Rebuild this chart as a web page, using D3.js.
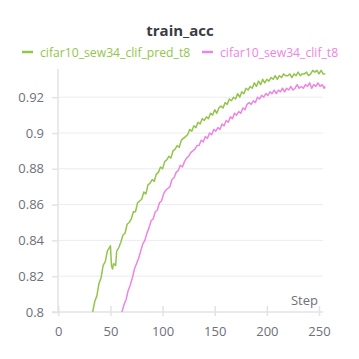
<!DOCTYPE html>
<html><head><meta charset="utf-8">
<script src="https://cdn.jsdelivr.net/npm/d3@7"></script>
<style>body{margin:0;background:#fff}svg{display:block;font-family:"Open Sans",sans-serif}</style>
</head><body><svg id="c" width="359" height="359"></svg>
<script>
const title = "train_acc";
const seriesNames = ["cifar10_sew34_clif_pred_t8", "cifar10_sew34_clif_t8"];
const seriesColors = ["#93c54b", "#ee84e4"];
const xTicks = [0, 50, 100, 150, 200, 250];
const yTicks = [0.8, 0.82, 0.84, 0.86, 0.88, 0.9, 0.92];
const yTickLabels = ["0.8", "0.82", "0.84", "0.86", "0.88", "0.9", "0.92"];

const greenSteps = [33,35,37,39,41,43,45,47,49,50,51,52,53,55,56,58,60,62,64,66,68,70,72,74,76,78,80,82,84,86,88,90,92,94,96,98,100,102,104,106,108,110,112,114,116,118,120,122,124,126,128,130,132,134,136,138,140,142,144,146,148,150,152,154,156,158,160,162,164,166,168,170,172,174,176,178,180,182,184,186,188,190,192,194,196,198,200,202,204,206,208,210,212,214,216,218,220,222,224,226,228,230,232,234,236,238,240,242,244,246,248,250,252,254,256];
const greenVals = [0.800,0.806,0.809,0.816,0.819,0.826,0.828,0.834,0.836,0.837,0.826,0.824,0.827,0.826,0.834,0.836,0.839,0.843,0.844,0.849,0.850,0.852,0.856,0.856,0.861,0.862,0.863,0.867,0.866,0.871,0.872,0.874,0.873,0.877,0.878,0.881,0.880,0.884,0.885,0.887,0.886,0.890,0.891,0.893,0.892,0.896,0.897,0.898,0.899,0.902,0.901,0.904,0.903,0.906,0.905,0.908,0.907,0.909,0.908,0.911,0.910,0.913,0.911,0.914,0.915,0.914,0.917,0.916,0.919,0.918,0.920,0.919,0.922,0.920,0.923,0.922,0.925,0.924,0.926,0.925,0.928,0.926,0.929,0.927,0.930,0.928,0.930,0.929,0.931,0.930,0.932,0.930,0.932,0.931,0.933,0.932,0.932,0.933,0.931,0.933,0.932,0.934,0.932,0.933,0.933,0.934,0.932,0.933,0.935,0.934,0.935,0.933,0.935,0.933,0.933];
const pinkSteps = [61,63,65,67,69,71,73,75,77,79,81,83,85,87,89,91,93,95,97,99,101,103,105,107,109,111,113,115,117,119,121,123,125,127,129,131,133,135,137,139,141,143,145,147,149,151,153,155,157,159,161,163,165,167,169,171,173,175,177,179,181,183,185,187,189,191,193,195,197,199,201,203,205,207,209,211,213,215,217,219,221,223,225,227,229,231,233,235,237,239,241,243,245,247,249,251,253,255,256];
const pinkVals = [0.800,0.804,0.807,0.812,0.815,0.819,0.824,0.827,0.830,0.834,0.838,0.840,0.844,0.847,0.851,0.852,0.856,0.857,0.861,0.862,0.866,0.868,0.869,0.870,0.874,0.875,0.878,0.879,0.882,0.881,0.884,0.886,0.887,0.889,0.890,0.891,0.893,0.893,0.896,0.895,0.898,0.897,0.900,0.899,0.902,0.901,0.903,0.902,0.905,0.904,0.907,0.906,0.909,0.908,0.911,0.910,0.912,0.911,0.914,0.913,0.916,0.917,0.916,0.918,0.917,0.920,0.919,0.921,0.920,0.922,0.921,0.923,0.922,0.924,0.922,0.924,0.923,0.925,0.923,0.925,0.924,0.926,0.924,0.925,0.927,0.925,0.926,0.925,0.927,0.926,0.928,0.925,0.927,0.926,0.928,0.926,0.927,0.925,0.926];

const svg = d3.select("#c");
const x = d3.scaleLinear().domain([0, 250]).range([58.3, 319]);
const y = d3.scaleLinear().domain([0.8, 0.92]).range([312, 97.2]);
const gridC = "#ececee", axisC = "#e3e3e6", textC = "#6f6f7b";

// grid
svg.append("g").selectAll("line").data(yTicks.slice(1)).join("line")
  .attr("x1", 58).attr("x2", 323).attr("y1", d => y(d)).attr("y2", d => y(d))
  .attr("stroke", gridC).attr("stroke-width", 1);

// y axis
const yAxis = svg.append("g").attr("transform", "translate(58,0)")
  .call(d3.axisLeft(y).tickValues(yTicks).tickFormat((d, i) => yTickLabels[i]).tickSize(6).tickPadding(8));
yAxis.select(".domain").remove();
yAxis.append("line").attr("x1", 0).attr("x2", 0).attr("y1", 69).attr("y2", 312).attr("stroke", axisC).attr("stroke-width", 1.5);
yAxis.selectAll(".tick line").attr("stroke", axisC).attr("stroke-width", 1.5);
yAxis.selectAll(".tick text").attr("fill", textC).style("font-size", "13px").style("font-family", "'Open Sans',sans-serif");

// x axis
const xAxis = svg.append("g").attr("transform", "translate(0,312)")
  .call(d3.axisBottom(x).tickValues(xTicks).tickSize(6).tickPadding(9));
xAxis.select(".domain").remove();
xAxis.append("line").attr("x1", 52).attr("x2", 323).attr("y1", 0).attr("y2", 0).attr("stroke", axisC).attr("stroke-width", 1.5);
xAxis.selectAll(".tick line").attr("y1", -6).attr("y2", 4).attr("stroke", axisC).attr("stroke-width", 1.5);
xAxis.selectAll(".tick text").attr("fill", textC).style("font-size", "13px").style("font-family", "'Open Sans',sans-serif");

svg.append("text").attr("x", 318).attr("y", 305).attr("text-anchor", "end")
  .attr("fill", textC).style("font-size", "13px").text("Step");

// lines
const clip = svg.append("clipPath").attr("id", "clp").append("rect")
  .attr("x", 58).attr("y", 60).attr("width", 275).attr("height", 252);
const line = d3.line().x(d => x(d[0])).y(d => y(d[1]));
const data = [d3.zip(greenSteps, greenVals), d3.zip(pinkSteps, pinkVals)];
svg.append("g").attr("clip-path", "url(#clp)").selectAll("path").data(data).join("path")
  .attr("d", line).attr("fill", "none")
  .attr("stroke", (d, i) => seriesColors[i]).attr("stroke-width", 1.5).attr("stroke-linejoin", "round");

// title
svg.append("text").attr("x", 180).attr("y", 36).attr("text-anchor", "middle")
  .attr("fill", "#3b3b44").style("font-size", "15px").style("font-weight", "bold").text(title);

// legend
const legX = [22, 202];
const leg = svg.append("g").selectAll("g").data(seriesNames).join("g")
  .attr("transform", (d, i) => `translate(${legX[i]},52)`);
leg.append("line").attr("x1", 0).attr("x2", 11).attr("y1", 0).attr("y2", 0)
  .attr("stroke", (d, i) => seriesColors[i]).attr("stroke-width", 2.5);
leg.append("text").attr("x", 18).attr("y", 4.5).attr("fill", (d, i) => seriesColors[i])
  .style("font-size", "12.2px").text(d => d);
</script></body></html>
